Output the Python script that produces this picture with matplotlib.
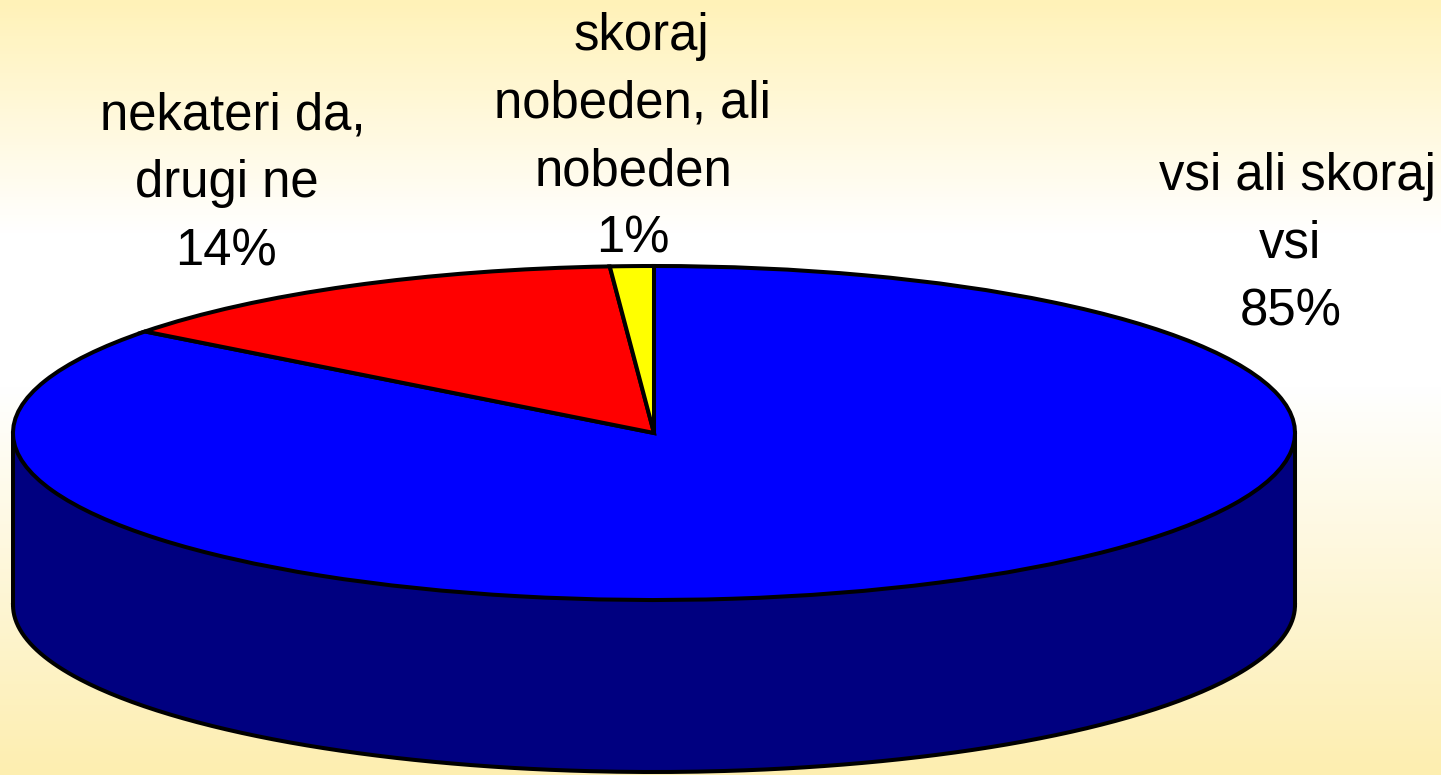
import numpy as np
import matplotlib
matplotlib.use('Agg')
import matplotlib.pyplot as plt
from matplotlib.colors import LinearSegmentedColormap

label_lines = [['vsi ali skoraj', 'vsi', '85%'],
               ['nekateri da,', 'drugi ne', '14%'],
               ['skoraj', 'nobeden, ali', 'nobeden', '1%']]
values = [85.4, 13.5, 1.1]
colors = ['#0000ff', '#ff0000', '#ffff00']
side_color = '#000080'

plt.rcParams['font.family'] = ['Liberation Sans', 'DejaVu Sans']

fig = plt.figure(figsize=(14.41, 7.75), dpi=100)

# background, yellow at both ends and white in between
bg = fig.add_axes([0, 0, 1, 1], zorder=0)
cmap = LinearSegmentedColormap.from_list('bg', [(0, '#fff2b8'), (0.3, '#ffffff'), (0.5, '#ffffff'), (1, '#fdeeb0')])
bg.imshow(np.linspace(0, 1, 256).reshape(-1, 1), aspect='auto', cmap=cmap, extent=[0, 1, 1, 0])
bg.axis('off')

# axes in pixels of the image, the unit circle gets squashed into the ellipse
ax = fig.add_axes([0, 0, 1, 1], zorder=1)
ax.patch.set_alpha(0)
cx, cy = 654, 433
rx, ry = 641, 167
depth = 172
lw = 2.9

# side of the pie
t = np.linspace(np.pi, 2 * np.pi, 300)
ex = cx + rx * np.cos(t)
top_y = cy - ry * np.sin(t)
ax.fill_between(ex, top_y, top_y + depth, color=side_color, lw=0)
ax.plot(ex, top_y + depth, color='black', lw=lw)
ax.plot([cx - rx, cx - rx], [cy, cy + depth], color='black', lw=lw)
ax.plot([cx + rx, cx + rx], [cy, cy + depth], color='black', lw=lw)

# top of the pie, clockwise from 12 o'clock
wedges, _ = ax.pie(values, colors=colors, startangle=90, counterclock=False, radius=1,
                   center=(0, 0), wedgeprops=dict(edgecolor='black', linewidth=lw))
for w in wedges:
    w.set_transform(matplotlib.transforms.Affine2D().scale(rx, -ry).translate(cx, cy) + ax.transData)

ax.set_aspect('auto')
ax.set_xlim(0, 1441)
ax.set_ylim(775, 0)
ax.axis('off')

# each line sits a bit off centre in the original, so x is per line
line_x = [[1297, 1290, 1291], [233, 227, 226], [641, 632, 634, 633]]
first_base = [190, 130, 50]
for lines, xs, y0 in zip(label_lines, line_x, first_base):
    for i, (s, x) in enumerate(zip(lines, xs)):
        ax.text(x, y0 + i * 67.5, s, ha='center', va='baseline', fontsize=36.6, color='black')

fig.savefig('out.png', dpi=100)
